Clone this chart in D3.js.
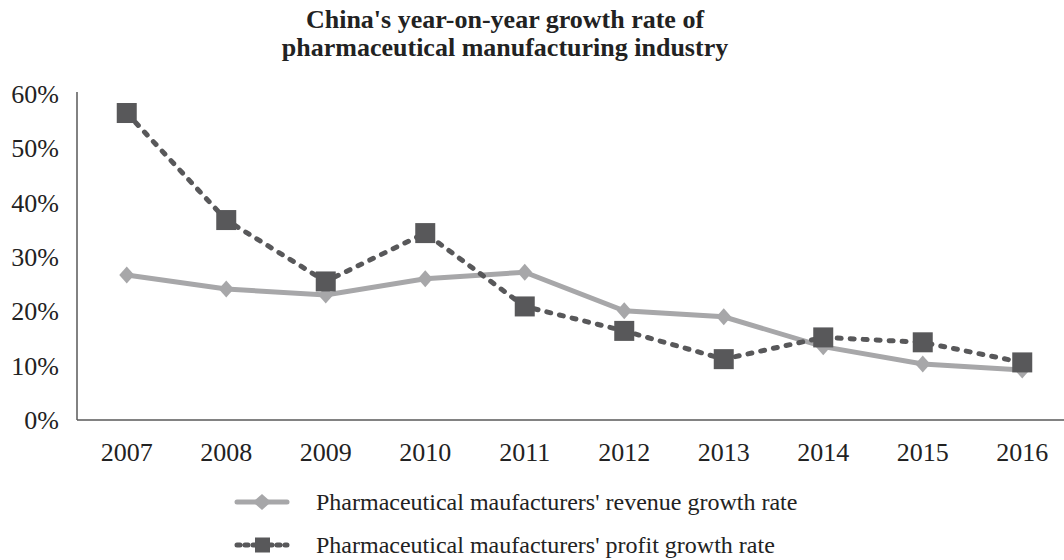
<!DOCTYPE html>
<html>
<head>
<meta charset="utf-8">
<script src="https://cdn.jsdelivr.net/npm/d3@7"></script>
<style>
  body { margin: 0; background: #fff; }
  svg { display: block; font-family: "Liberation Serif", "DejaVu Serif", serif; }
</style>
</head>
<body>
<div id="chart"></div>
<script>
const years = ['2007', '2008', '2009', '2010', '2011', '2012', '2013', '2014', '2015', '2016']
const revenueGrowth = [26.7, 24.1, 23.0, 26.0, 27.2, 20.1, 19.0, 13.5, 10.3, 9.2]
const profitGrowth = [56.5, 36.8, 25.5, 34.4, 20.9, 16.4, 11.2, 15.2, 14.3, 10.6]
const yTicks = [0, 10, 20, 30, 40, 50, 60]
const titleLines = ["China's year-on-year growth rate of", 'pharmaceutical manufacturing industry']
const legendLabels = ["Pharmaceutical maufacturers' revenue growth rate",
    "Pharmaceutical maufacturers' profit growth rate"]

const width = 1064, height = 560
const margin = {top: 94, left: 77, bottom: 140}

const svg = d3.select('#chart').append('svg')
    .attr('width', width)
    .attr('height', height)

// title
svg.append('g').selectAll('text')
    .data(titleLines)
    .enter()
    .append('text')
    .attr('x', 505)
    .attr('y', (d, i) => 28 + i * 28)
    .attr('text-anchor', 'middle')
    .style('font-size', '26px')
    .style('font-weight', 'bold')
    .style('fill', '#222')
    .text(d => d)

const x = d3.scaleBand()
    .domain(years)
    .range([margin.left, margin.left + 995])

const y = d3.scaleLinear()
    .domain([0, 60])
    .range([height - margin.bottom, margin.top])

const cx = d => x(d) + x.bandwidth() / 2

// axes
svg.append('line')
    .attr('x1', margin.left).attr('x2', margin.left)
    .attr('y1', y(60) - 2).attr('y2', y(0))
    .style('stroke', '#595959').style('stroke-width', 1.5)

svg.append('line')
    .attr('x1', margin.left).attr('x2', width)
    .attr('y1', y(0)).attr('y2', y(0))
    .style('stroke', '#595959').style('stroke-width', 1.5)

svg.append('g').selectAll('text')
    .data(yTicks)
    .enter()
    .append('text')
    .attr('x', 59)
    .attr('y', d => y(d))
    .attr('dy', '0.35em')
    .attr('text-anchor', 'end')
    .style('font-size', '26px')
    .style('fill', '#222')
    .text(d => d + '%')

svg.append('g').selectAll('text')
    .data(years)
    .enter()
    .append('text')
    .attr('x', d => cx(d))
    .attr('y', y(0) + 32)
    .attr('dy', '0.35em')
    .attr('text-anchor', 'middle')
    .style('font-size', '26px')
    .style('fill', '#222')
    .text(d => d)

const line = d3.line()
    .x(d => cx(d.year))
    .y(d => y(d.value))

const revenue = years.map((yr, i) => ({year: yr, value: revenueGrowth[i]}))
const profit = years.map((yr, i) => ({year: yr, value: profitGrowth[i]}))

const revColor = '#a7a7a9'
const profColor = '#58585a'
const diamond = (px, py, w, h) => `M${px},${py - h} L${px + w},${py} L${px},${py + h} L${px - w},${py} Z`

// revenue series
svg.append('path')
    .datum(revenue)
    .attr('d', line)
    .style('fill', 'none')
    .style('stroke', revColor)
    .style('stroke-width', 5)

svg.append('g').selectAll('path')
    .data(revenue)
    .enter()
    .append('path')
    .attr('d', d => diamond(cx(d.year), y(d.value), 7.5, 8.5))
    .style('fill', revColor)

// profit series
svg.append('path')
    .datum(profit)
    .attr('d', line)
    .style('fill', 'none')
    .style('stroke', profColor)
    .style('stroke-width', 5)
    .style('stroke-dasharray', '4,9')
    .style('stroke-linecap', 'round')

const sq = 20
svg.append('g').selectAll('rect')
    .data(profit)
    .enter()
    .append('rect')
    .attr('x', d => cx(d.year) - sq / 2)
    .attr('y', d => y(d.value) - sq / 2)
    .attr('width', sq)
    .attr('height', sq)
    .style('fill', profColor)

// legend
const legend = svg.append('g')
const ly = [502, 545]

legend.append('line')
    .attr('x1', 237).attr('x2', 287)
    .attr('y1', ly[0]).attr('y2', ly[0])
    .style('stroke', revColor).style('stroke-width', 5).style('stroke-linecap', 'round')
legend.append('path')
    .attr('d', diamond(262, ly[0], 9, 8))
    .style('fill', revColor)

legend.append('line')
    .attr('x1', 237).attr('x2', 287)
    .attr('y1', ly[1]).attr('y2', ly[1])
    .style('stroke', profColor).style('stroke-width', 5)
    .style('stroke-dasharray', '3,5').style('stroke-linecap', 'round')
legend.append('rect')
    .attr('x', 255).attr('y', ly[1] - 7.5)
    .attr('width', 15).attr('height', 15)
    .style('fill', profColor)

legend.selectAll('text')
    .data(legendLabels)
    .enter()
    .append('text')
    .attr('x', 316)
    .attr('y', (d, i) => ly[i])
    .attr('dy', '0.35em')
    .style('font-size', '24px')
    .style('fill', '#222')
    .text(d => d)
</script>
</body>
</html>
